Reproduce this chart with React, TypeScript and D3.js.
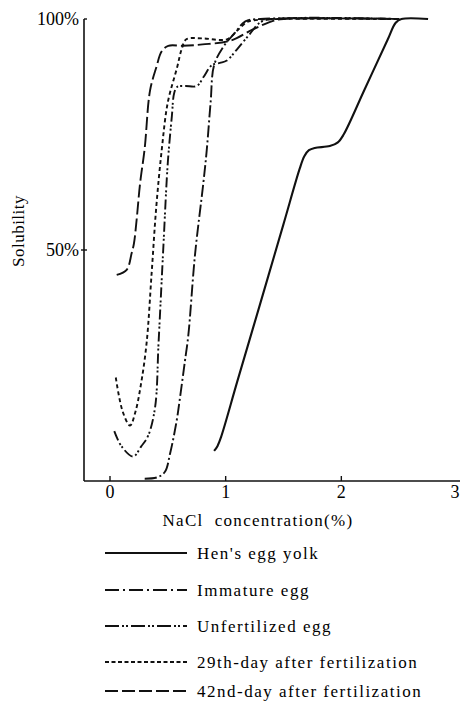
import React, { useEffect, useRef } from "react";
import * as d3 from "d3";

// [NaCl %, solubility %]
const henYolk: [number, number][] = [
  [0.9, 6.5], [0.93, 7.6], [0.96, 9.5], [1.1, 21.5], [1.3, 38.5], [1.5, 55.6],
  [1.64, 67.6], [1.68, 70.3], [1.72, 71.6], [1.77, 72.1], [1.9, 72.5],
  [1.97, 73.3], [2.02, 75], [2.2, 84.7], [2.4, 95.5], [2.47, 99.2], [2.52, 100], [2.75, 100],
];
const immature: [number, number][] = [
  [0.3, 0.5], [0.41, 0.8], [0.475, 2], [0.52, 6], [0.576, 13], [0.605, 18],
  [0.648, 26], [0.677, 31.5], [0.735, 49], [0.807, 64.5], [0.836, 71.5],
  [0.87, 82], [0.9, 90], [0.98, 94], [1.08, 97], [1.17, 99.5], [1.3, 100], [2.5, 100],
];
const unfertilized: [number, number][] = [
  [0.037, 10.8], [0.1, 7.5], [0.2, 5.3], [0.27, 7.5], [0.33, 9.8], [0.39, 16],
  [0.42, 30], [0.46, 50], [0.5, 69], [0.535, 79], [0.555, 84], [0.58, 85.3],
  [0.65, 85.5], [0.75, 85.5], [0.81, 87.5], [0.88, 90], [0.95, 90.5], [1.01, 91],
  [1.1, 93.5], [1.21, 96.8], [1.3, 99.3], [1.4, 100], [2.5, 100],
];
const day29: [number, number][] = [
  [0.05, 22.4], [0.11, 15], [0.173, 12], [0.22, 15], [0.27, 21.3], [0.317, 30],
  [0.36, 45], [0.4, 59.3], [0.447, 71.6], [0.5, 82], [0.58, 89.5], [0.62, 93.5],
  [0.66, 95.6], [0.8, 95.8], [1.01, 95.6], [1.1, 97.5], [1.18, 99.3], [1.24, 99.7],
  [1.45, 100], [2.5, 100],
];
const day42: [number, number][] = [
  [0.058, 44.6], [0.144, 45.7], [0.187, 49.3], [0.207, 51.4], [0.23, 56.5],
  [0.26, 64.4], [0.3, 72], [0.346, 84.5], [0.4, 89.5], [0.447, 93], [0.504, 94.2],
  [0.63, 94.2], [0.8, 94.5], [1.04, 95.3], [1.24, 97.8], [1.41, 99.6], [1.5, 100],
  [2.5, 100],
];

const xTicks = [0, 1, 2, 3];
const yTicks = [50, 100];

const series = [
  { name: "Hen's egg yolk", data: henYolk, dash: "", legendDash: "" },
  { name: "Immature egg", data: immature, dash: "12,3,2,3", legendDash: "14,4,2,4" },
  { name: "Unfertilized egg", data: unfertilized, dash: "10,3,2,2,2,3", legendDash: "14,3,2,2,2,3" },
  { name: "29th-day after fertilization", data: day29, dash: "4,3", legendDash: "4,2.5" },
  { name: "42nd-day after fertilization", data: day42, dash: "13,4", legendDash: "13,4" },
];

const legendRows = [553, 590, 626, 662, 691];

const App = () => {
  const svgRef = useRef<SVGSVGElement>(null);

  useEffect(() => {
    const svg = d3.select(svgRef.current);
    svg.selectAll("*").remove();

    const font = "Liberation Serif, Times New Roman, serif";
    const x = d3.scaleLinear().domain([0, 3]).range([110, 457]);
    const y = d3.scaleLinear().domain([0, 100]).range([481, 19]);
    const axisX = 84;

    // axes
    svg.append("line")
      .attr("x1", axisX).attr("x2", axisX)
      .attr("y1", y(100)).attr("y2", y(0))
      .attr("stroke", "#111").attr("stroke-width", 1.6);
    svg.append("line")
      .attr("x1", axisX).attr("x2", 460)
      .attr("y1", y(0)).attr("y2", y(0))
      .attr("stroke", "#111").attr("stroke-width", 1.6);

    yTicks.forEach(t => {
      svg.append("line")
        .attr("x1", t === 100 ? axisX : axisX - 3).attr("x2", axisX + 3)
        .attr("y1", y(t)).attr("y2", y(t))
        .attr("stroke", "#111").attr("stroke-width", 1.4);
      svg.append("text")
        .attr("x", 79).attr("y", y(t) + 6)
        .attr("text-anchor", "end")
        .attr("font-family", font).attr("font-size", 18)
        .text(`${t}%`);
    });

    xTicks.forEach(t => {
      if (t < 3) {
        svg.append("line")
          .attr("x1", x(t)).attr("x2", x(t))
          .attr("y1", y(0) - 5).attr("y2", y(0))
          .attr("stroke", "#111").attr("stroke-width", 1.4);
      }
      svg.append("text")
        .attr("x", t === 3 ? x(t) - 2 : x(t)).attr("y", 498)
        .attr("text-anchor", "middle")
        .attr("font-family", font).attr("font-size", 18)
        .text(t);
    });

    svg.append("text")
      .attr("x", 258).attr("y", 526)
      .attr("text-anchor", "middle")
      .attr("font-family", font).attr("font-size", 17)
      .style("letter-spacing", "1.3px")
      .style("white-space", "pre")
      .text("NaCl  concentration(%)");

    svg.append("text")
      .attr("transform", "translate(24,231) rotate(-90)")
      .attr("text-anchor", "middle")
      .attr("font-family", font).attr("font-size", 17)
      .style("letter-spacing", "0.5px")
      .text("Solubility");

    // curves
    const line = d3.line<[number, number]>()
      .x(d => x(d[0]))
      .y(d => y(d[1]))
      .curve(d3.curveCatmullRom.alpha(0.5));

    series.forEach(s => {
      svg.append("path")
        .datum(s.data)
        .attr("fill", "none")
        .attr("stroke", "#111")
        .attr("stroke-width", s.dash ? 1.9 : 2.1)
        .attr("stroke-dasharray", s.dash || null)
        .attr("d", line);
    });

    // legend
    series.forEach((s, i) => {
      const ly = legendRows[i];
      svg.append("line")
        .attr("x1", 105).attr("x2", 187)
        .attr("y1", ly).attr("y2", ly)
        .attr("stroke", "#111").attr("stroke-width", 1.9)
        .attr("stroke-dasharray", s.legendDash || null);
      svg.append("text")
        .attr("x", 197).attr("y", ly + 6)
        .attr("font-family", font).attr("font-size", 17)
        .style("letter-spacing", "1.5px")
        .text(s.name);
    });
  }, []);

  return (
    <svg
      ref={svgRef}
      width={460}
      height={701}
      style={{ position: "absolute", left: 0, top: 0, background: "#fff" }}
    />
  );
};

export default App;
